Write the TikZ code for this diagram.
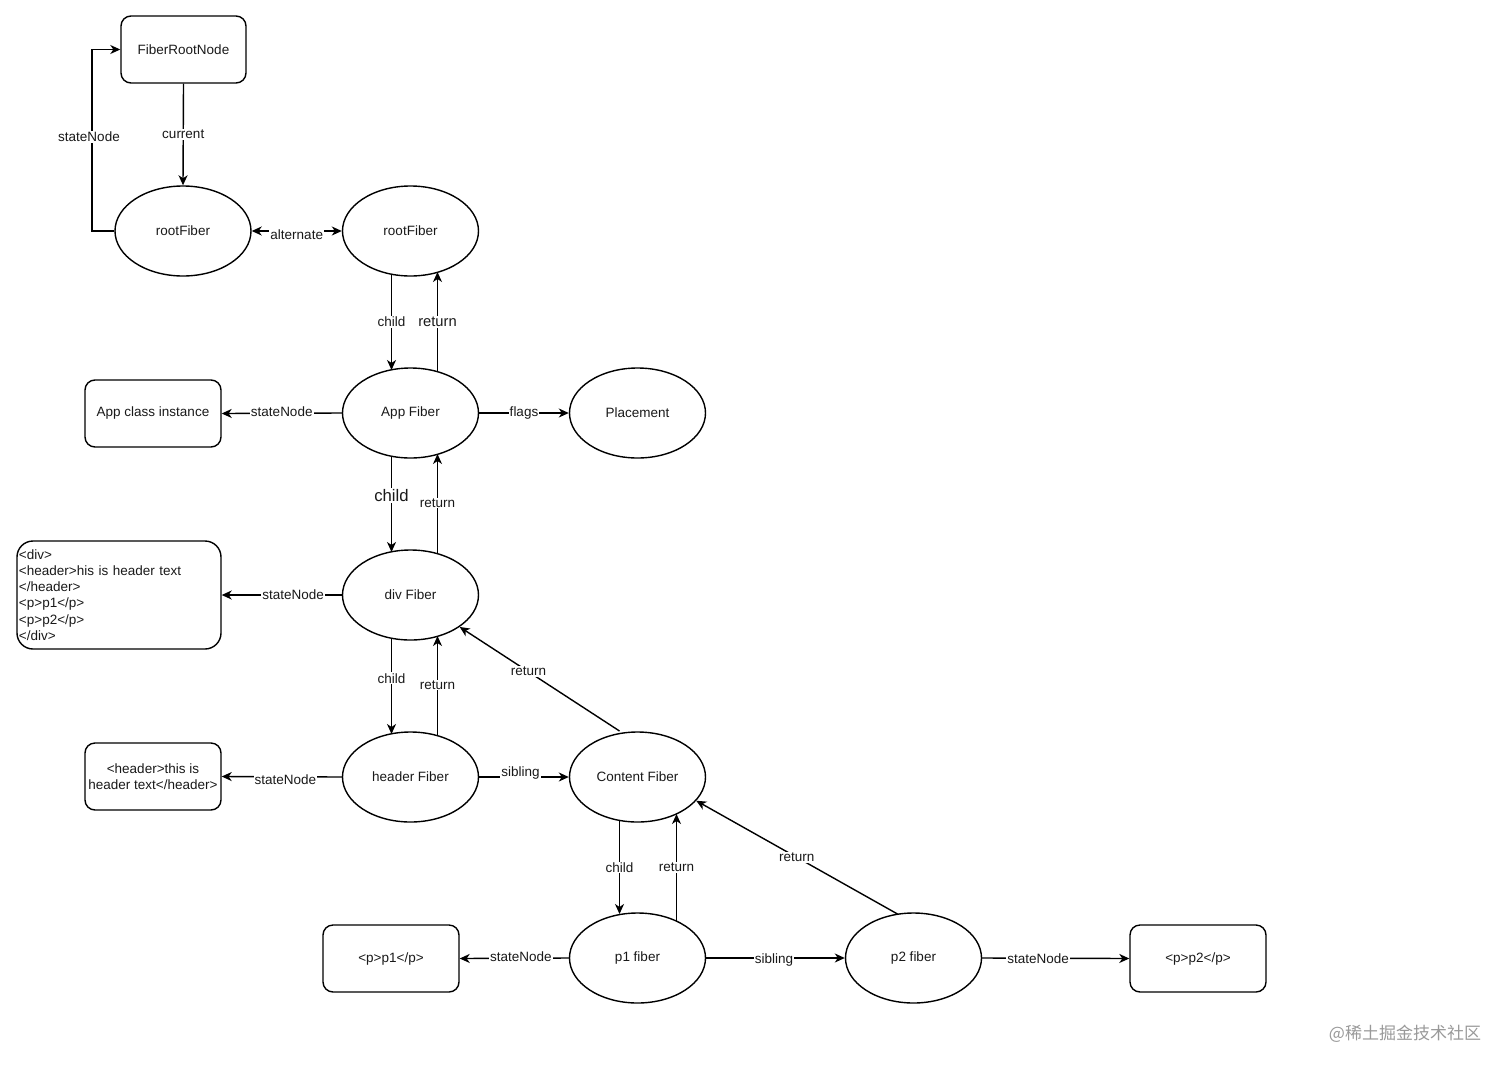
\documentclass[tikz,border=0pt]{standalone}
\usepackage{fontspec}
\setmainfont{Liberation Sans}
\newfontfamily\cjk{Noto Sans CJK SC}
\usetikzlibrary{arrows.meta,calc,shapes.geometric}
\begin{document}
\begin{tikzpicture}[x=1pt,y=-1pt,
  every node/.style={font=\fontsize{13.5}{16.3}\selectfont, text=black!90},
  ell/.style={draw=black, ellipse, line width=1.4pt, minimum width=136pt, minimum height=90pt, inner sep=0pt},
  rbox/.style={draw=black, rectangle, rounded corners=10pt, line width=1.4pt, minimum width=136pt, minimum height=67pt, inner sep=0pt, align=center},
  tipa/.tip={Stealth[length=10pt,width=9pt,inset=3pt]},
  arr/.style={-tipa, line width=1.4pt},
  arrb/.style={tipa-tipa, line width=1.4pt},
  lbl/.style={fill=white, inner sep=1pt},
  big/.style={font=\fontsize{14.7}{17}\selectfont},
  huge/.style={font=\fontsize{16.7}{19}\selectfont},
]
\useasboundingbox (0,0) rectangle (1512,1071);

% nodes
\node[rbox, minimum width=125pt] (FRN) at (183.5,49.5) {FiberRootNode};
\node[ell] (rf1) at (183,231) {rootFiber};
\node[ell] (rf2) at (410.5,231) {rootFiber};
\node[ell] (App) at (410.5,413) {App Fiber};
\node[ell] (pl) at (637.5,413) {Placement};
\node[rbox] (aci) at (153,413.5) {App class instance};
\node[ell] (div) at (410.5,595) {div Fiber};
\node[rbox, rounded corners=16pt, minimum width=204pt, minimum height=108pt, text width=200pt, inner xsep=2pt, align=left] (dr) at (119,595)
  {<div>\\<header>his is header text\\</header>\\<p>p1</p>\\<p>p2</p>\\</div>};
\node[ell] (hf) at (410.5,777) {header Fiber};
\node[rbox] (hr) at (153,776.5) {<header>this is\\header text</header>};
\node[ell] (cf) at (637.5,777) {Content Fiber};
\node[ell] (p1) at (637.5,958) {p1 fiber};
\node[ell] (p2) at (913.5,958) {p2 fiber};
\node[rbox] (pr1) at (391,958.5) {<p>p1</p>};
\node[rbox] (pr2) at (1198,958.5) {<p>p2</p>};
\coordinate (bend) at (92,49.5);

% connectors
\draw[arr] (FRN.south) -- node[lbl]{current} (rf1.north);
\draw[arr] (rf1.west) -| node[lbl,pos=0.76,xshift=-3pt]{stateNode} (bend) -- (FRN.west);
\draw[arrb] (rf1.east) -- node[lbl,yshift=-4pt]{alternate} (rf2.west);

\draw[arr] ($(rf2.center)+(-19,43)$) -- node[lbl]{child} ($(App.center)+(-19,-43)$);
\draw[arr] ($(App.center)+(27,-41)$) -- node[lbl,big,pos=0.5]{return} ($(rf2.center)+(27,41)$);

\draw[arr] (App.west) -- node[lbl,yshift=2pt]{stateNode} (aci.east);
\draw[arr] (App.east) -- node[lbl]{flags} (pl.west);

\draw[arr] ($(App.center)+(-19,43)$) -- node[lbl,huge,pos=0.41]{child} ($(div.center)+(-19,-43)$);
\draw[arr] ($(div.center)+(27,-41)$) -- node[lbl,pos=0.51]{return} ($(App.center)+(27,41)$);

\draw[arr] (div.west) -- node[lbl,pos=0.405]{stateNode} (dr.east);

\draw[arr] ($(div.center)+(-19,43)$) -- node[lbl,pos=0.42]{child} ($(hf.center)+(-19,-43)$);
\draw[arr] ($(hf.center)+(27,-41)$) -- node[lbl,pos=0.51]{return} ($(div.center)+(27,41)$);

\draw[arr] (hf.west) -- node[lbl,pos=0.47,yshift=-3pt]{stateNode} (hr.east);
\draw[arr] (hf.east) -- node[lbl,pos=0.46,yshift=4pt]{sibling} (cf.west);

\draw[arr] ($(cf.center)+(-18,-46)$) -- node[lbl,pos=0.57]{return} (div.-33);

\draw[arr] ($(cf.center)+(-18,44)$) -- node[lbl]{child} ($(p1.center)+(-18,-44)$);
\draw[arr] ($(p1.center)+(39,-37)$) -- node[lbl]{return} ($(cf.center)+(39,37)$);

\draw[arr] ($(p2.center)+(-16,-44)$) -- node[lbl]{return} (cf.-22);

\draw[arr] (p1.west) -- node[lbl,pos=0.44,yshift=2pt]{stateNode} (pr1.east);
\draw[arr] (p1.east) -- node[lbl,pos=0.49,yshift=-2pt]{sibling} (p2.west);
\draw[arr] (p2.east) -- node[lbl,pos=0.38]{stateNode} (pr2.west);

% watermark
\node[font=\cjk\fontsize{17}{20}\selectfont, text=black!40] (wm) at (1405,1034) {@稀土掘金技术社区};
\end{tikzpicture}
\end{document}
